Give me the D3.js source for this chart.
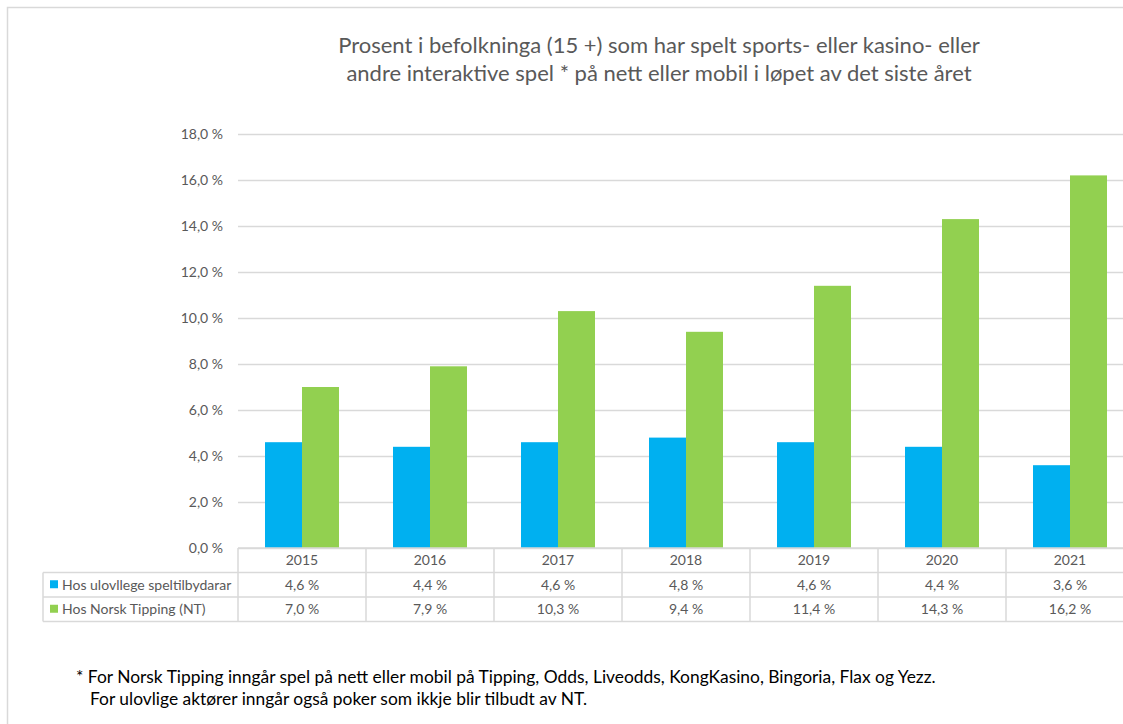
<!DOCTYPE html>
<html>
<head>
<meta charset="utf-8">
<script src="https://cdn.jsdelivr.net/npm/d3@7"></script>
<style>
  body { margin: 0; background: #fff; }
  svg text { font-family: Lato, "Open Sans", sans-serif; }
</style>
</head>
<body>
<svg id="chart" width="1123" height="724"></svg>
<script>
/* data */
var years = ["2015", "2016", "2017", "2018", "2019", "2020", "2021"];
var illegal = [4.6, 4.4, 4.6, 4.8, 4.6, 4.4, 3.6];
var norskTipping = [7.0, 7.9, 10.3, 9.4, 11.4, 14.3, 16.2];
var seriesNames = ["Hos ulovllege speltilbydarar", "Hos Norsk Tipping (NT)"];
var seriesColors = ["#00B0F0", "#92D050"];
var yTicks = [0, 2, 4, 6, 8, 10, 12, 14, 16, 18];
var titleLines = [
  "Prosent i befolkninga (15 +) som har spelt sports- eller kasino- eller",
  "andre interaktive spel * på nett eller mobil i løpet av det siste året"
];
var noteLines = [
  "* For Norsk Tipping inngår spel på nett eller mobil på Tipping, Odds, Liveodds, KongKasino, Bingoria, Flax og Yezz.",
  "For ulovlige aktører inngår også poker som ikkje blir tilbudt av NT."
];

var fmt = function (v) { return d3.format(".1f")(v).replace(".", ",") + " %"; };

var svg = d3.select("#chart");

/* chart frame */
svg.append("rect")
  .attr("x", 7.5).attr("y", 7.5)
  .attr("width", 1200).attr("height", 800)
  .attr("fill", "none").attr("stroke", "#d9d9d9").attr("stroke-width", 1.5);

/* title */
svg.append("g").selectAll("text")
  .data(titleLines).enter().append("text")
  .attr("x", 659)
  .attr("y", function (d, i) { return 53 + i * 28; })
  .attr("text-anchor", "middle")
  .attr("font-size", 22)
  .attr("fill", "#595959")
  .text(function (d) { return d; });

/* scales */
var plotLeft = 238, plotRight = 1134, plotTop = 134, plotBottom = 548;
var xScale = d3.scaleBand().domain(years).range([plotLeft, plotRight]);
var yScale = d3.scaleLinear().domain([0, 18]).range([plotBottom, plotTop]);
var sub = d3.scaleBand().domain([0, 1])
  .range([0, xScale.bandwidth()]).paddingOuter(0.73).paddingInner(0);

/* gridlines + y axis */
var yAxis = d3.axisLeft(yScale)
  .tickValues(yTicks)
  .tickSize(-(plotRight - plotLeft))
  .tickPadding(15)
  .tickFormat(fmt);

var yG = svg.append("g")
  .attr("transform", "translate(" + plotLeft + ",0)")
  .call(yAxis);
yG.select(".domain").remove();
yG.selectAll(".tick line").attr("stroke", "#d9d9d9").attr("stroke-width", 1.5);
yG.selectAll(".tick text")
  .attr("font-size", 14)
  .attr("fill", "#595959");

/* bars */
var series = [illegal, norskTipping];
series.forEach(function (vals, s) {
  svg.append("g").selectAll("rect")
    .data(vals).enter().append("rect")
    .attr("x", function (d, i) { return xScale(years[i]) + sub(s); })
    .attr("width", sub.bandwidth())
    .attr("y", function (d) { return yScale(d); })
    .attr("height", function (d) { return yScale(0) - yScale(d); })
    .attr("fill", seriesColors[s]);
});

/* data table */
var rowH = 24.5;
var tableLeft = 43;
var tbl = svg.append("g").attr("stroke", "#d9d9d9").attr("stroke-width", 1.5);

// horizontal lines
tbl.append("line").attr("x1", plotLeft).attr("x2", plotRight).attr("y1", plotBottom).attr("y2", plotBottom);
[1, 2, 3].forEach(function (r) {
  tbl.append("line").attr("x1", tableLeft).attr("x2", plotRight)
    .attr("y1", plotBottom + r * rowH).attr("y2", plotBottom + r * rowH);
});
// vertical lines
tbl.append("line").attr("x1", tableLeft).attr("x2", tableLeft)
  .attr("y1", plotBottom + rowH).attr("y2", plotBottom + 3 * rowH);
years.forEach(function (y) {
  tbl.append("line").attr("x1", xScale(y)).attr("x2", xScale(y))
    .attr("y1", plotBottom).attr("y2", plotBottom + 3 * rowH);
});

// year labels
svg.append("g").selectAll("text")
  .data(years).enter().append("text")
  .attr("x", function (d) { return xScale(d) + xScale.bandwidth() / 2; })
  .attr("y", plotBottom + rowH / 2 + 5)
  .attr("text-anchor", "middle")
  .attr("font-size", 14)
  .attr("fill", "#595959")
  .text(function (d) { return d; });

// series rows
series.forEach(function (vals, s) {
  var rowY = plotBottom + (s + 1) * rowH;
  svg.append("rect")
    .attr("x", 50).attr("y", rowY + rowH / 2 - 4.5)
    .attr("width", 8).attr("height", 8)
    .attr("fill", seriesColors[s]);
  svg.append("text")
    .attr("x", 62).attr("y", rowY + rowH / 2 + 5)
    .attr("font-size", 14)
    .attr("fill", "#595959")
    .text(seriesNames[s]);
  svg.append("g").selectAll("text")
    .data(vals).enter().append("text")
    .attr("x", function (d, i) { return xScale(years[i]) + xScale.bandwidth() / 2; })
    .attr("y", plotBottom + (s + 1) * rowH + rowH / 2 + 5)
    .attr("text-anchor", "middle")
    .attr("font-size", 14)
    .attr("fill", "#595959")
    .text(fmt);
});

/* footnote */
svg.append("g").selectAll("text")
  .data(noteLines).enter().append("text")
  .attr("x", function (d, i) { return i === 0 ? 76 : 90; })
  .attr("y", function (d, i) { return 683 + i * 22; })
  .attr("font-size", 17.4)
  .attr("fill", "#000")
  .text(function (d) { return d; });
</script>
</body>
</html>
